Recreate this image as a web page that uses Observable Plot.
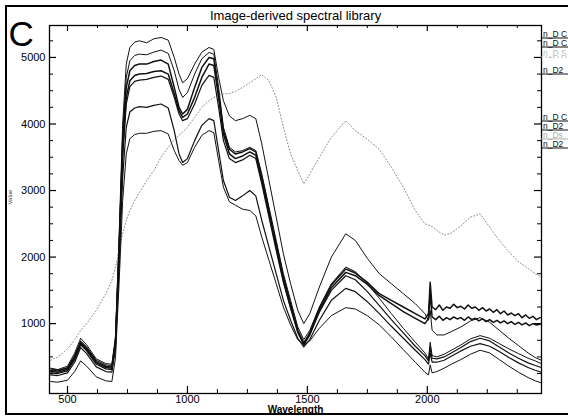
<!DOCTYPE html>
<html>
<head>
<meta charset="utf-8">
<script src="https://cdn.jsdelivr.net/npm/d3@7"></script>
<script src="https://cdn.jsdelivr.net/npm/@observablehq/plot@0.6"></script>
<style>
  html, body { margin: 0; padding: 0; background: #fff; overflow: hidden; }
  #chart svg { display: block; }
</style>
</head>
<body>
<div id="chart"></div>
<script>
// Wavelength grids (nm). The two noisy spectra use a finer grid past 2020 nm.
const bands = [430, 460, 500, 530, 555, 580, 620, 660, 685, 700, 715, 730, 745, 760, 780, 800, 830, 860, 890, 920,
  945, 965, 980, 1000, 1030, 1060, 1090, 1110, 1130, 1150, 1175, 1200, 1230, 1260, 1285, 1310, 1340, 1370, 1400, 1430,
  1460, 1485, 1510, 1550, 1600, 1660, 1700, 1750, 1800, 1850, 1900, 1950, 1990, 2005, 2012, 2020,
  2040, 2070, 2100, 2140, 2180, 2220, 2260, 2300, 2340, 2380, 2420, 2450, 2475];
const bandsFine = [430, 460, 500, 530, 555, 580, 620, 660, 685, 700, 715, 730, 745, 760, 780, 800, 830, 860, 890, 920,
  945, 965, 980, 1000, 1030, 1060, 1090, 1110, 1130, 1150, 1175, 1200, 1230, 1260, 1285, 1310, 1340, 1370, 1400, 1430,
  1460, 1485, 1510, 1550, 1600, 1660, 1700, 1750, 1800, 1850, 1900, 1950, 1990, 2005, 2012, 2020,
  2035, 2050, 2065, 2080, 2095, 2110, 2125, 2140, 2155, 2170, 2185, 2200, 2215, 2230, 2245, 2260, 2275, 2290, 2305,
  2320, 2335, 2350, 2365, 2380, 2395, 2410, 2425, 2440, 2455, 2470];

// Library spectra (value per band)
const specA = [330, 310, 360, 560, 780, 680, 470, 400, 390, 800, 2300, 4000, 4900, 5150, 5230, 5250, 5220, 5280, 5300, 5260,
  5000, 4750, 4620, 4680, 4900, 5080, 5150, 5120, 4700, 4350, 4120, 4050, 4080, 4130, 4080, 3700, 3150, 2600, 2050, 1600,
  1200, 1000, 1150, 1550, 2000, 2350, 2250, 1980, 1750, 1600, 1450, 1300, 1150, 1050, 1200, 900,
  830, 830, 880, 950, 1040, 1090, 1020, 900, 780, 670, 560, 490, 450];
const specB = [320, 300, 340, 530, 740, 650, 450, 380, 370, 760, 2200, 3850, 4700, 4950, 5030, 5050, 5040, 5080, 5110, 5060,
  4800, 4520, 4400, 4470, 4750, 4980, 5075, 5050, 4550, 3950, 3650, 3580, 3600, 3650, 3600, 3250, 2750, 2250, 1750, 1350,
  950, 760, 900, 1250, 1600, 1850, 1780, 1600, 1380, 1150, 930, 720, 560, 470, 720, 520,
  500, 540, 600, 680, 770, 820, 780, 700, 620, 550, 480, 440, 400];
const soil = [450, 500, 620, 760, 900, 1000, 1200, 1450, 1650, 1850, 2100, 2350, 2550, 2700, 2850, 2970, 3150, 3300, 3500, 3650,
  3760, 3830, 3880, 3950, 4100, 4250, 4350, 4400, 4430, 4450, 4460, 4490, 4550, 4620, 4680, 4740, 4650, 4400, 3950, 3550,
  3300, 3100, 3250, 3500, 3800, 4050, 3900, 3770, 3620, 3350, 3050, 2700, 2500, 2480, 2470, 2460,
  2400, 2330, 2360, 2470, 2600, 2650, 2450, 2250, 2080, 1930, 1830, 1750, 1700];
const specC = [300, 290, 330, 500, 720, 630, 430, 360, 350, 720, 2100, 3700, 4550, 4800, 4880, 4900, 4900, 4940, 4960, 4900,
  4550, 4250, 4150, 4220, 4550, 4850, 5000, 4980, 4450, 3900, 3620, 3550, 3580, 3630, 3580, 3200, 2700, 2200, 1700, 1300,
  900, 700, 860, 1230, 1580, 1820, 1760, 1620, 1450, 1350, 1250, 1150, 1070, 1150, 1620, 1250,
  1210, 1280, 1200, 1250, 1230, 1290, 1240, 1260, 1220, 1280, 1230, 1250, 1200, 1240, 1190, 1220, 1170, 1210, 1150,
  1190, 1130, 1160, 1120, 1150, 1090, 1130, 1080, 1110, 1060, 1090];
const specD = [280, 270, 310, 480, 700, 610, 410, 340, 330, 700, 2050, 3600, 4400, 4650, 4730, 4750, 4760, 4790, 4800, 4750,
  4450, 4200, 4100, 4150, 4400, 4700, 4900, 4880, 4400, 3850, 3550, 3480, 3520, 3580, 3530, 3150, 2650, 2150, 1650, 1250,
  870, 680, 830, 1200, 1540, 1770, 1720, 1590, 1420, 1300, 1180, 1080, 1000, 1080, 1450, 1100,
  1060, 1110, 1050, 1090, 1060, 1100, 1070, 1090, 1050, 1100, 1060, 1080, 1040, 1070, 1030, 1060, 1020, 1050, 1010,
  1040, 1000, 1030, 990, 1020, 980, 1010, 970, 1000, 980, 990];
const specE = [260, 250, 290, 460, 680, 590, 390, 320, 310, 680, 2000, 3500, 4300, 4560, 4640, 4660, 4670, 4700, 4720, 4670,
  4400, 4150, 4050, 4080, 4300, 4580, 4730, 4700, 4250, 3750, 3480, 3420, 3460, 3530, 3480, 3100, 2600, 2100, 1620, 1230,
  880, 720, 840, 1170, 1500, 1720, 1660, 1480, 1270, 1060, 860, 660, 520, 440, 650, 480,
  470, 500, 560, 640, 730, 780, 740, 650, 560, 480, 410, 370, 340];
const specF = [230, 220, 260, 420, 640, 550, 350, 280, 270, 620, 1850, 3200, 3950, 4180, 4240, 4260, 4250, 4280, 4300, 4240,
  3900, 3550, 3420, 3480, 3750, 3980, 4080, 4050, 3600, 3150, 2900, 2850, 2920, 3000, 2920, 2550, 2150, 1750, 1350, 1050,
  780, 650, 760, 1050, 1350, 1530, 1480, 1330, 1150, 960, 780, 600, 460, 390, 560, 420,
  420, 450, 510, 590, 660, 700, 660, 580, 490, 410, 340, 300, 270];
const specG = [130, 120, 150, 280, 440, 360, 200, 140, 130, 480, 1600, 2850, 3550, 3780, 3840, 3860, 3860, 3890, 3900, 3850,
  3600, 3450, 3380, 3420, 3650, 3830, 3900, 3870, 3450, 3050, 2830, 2780, 2720, 2700, 2620, 2300, 1950, 1600, 1250, 980,
  760, 680, 740, 930, 1120, 1240, 1220, 1120, 980, 800, 610, 420, 270, 230, 380, 260,
  280, 330, 390, 460, 540, 600, 560, 460, 360, 270, 190, 140, 110];

// Legend names, top to bottom (as far as the narrow legend column shows them)
const names = ["n_D C", "n_D C", "n_D S", "n_D2", "n_D C", "n_D2", "n_Ds", "n_D2"];

// Axis ticks
const xMajor = [500, 1000, 1500, 2000];
const xMinor = [625, 750, 875, 1125, 1250, 1375, 1625, 1750, 1875, 2125, 2250, 2375];
const yMajor = [1000, 2000, 3000, 4000, 5000];
const yMinor = [250, 500, 750, 1250, 1500, 1750, 2250, 2500, 2750, 3250, 3500, 3750, 4250, 4500, 4750, 5250];

// Series: values, grid, drawing style
const series = [
  {name: names[0], wl: bands,     v: specA, stroke: "#111", width: 1.0, dash: null, legendStroke: "#111", legendText: "#111"},
  {name: names[1], wl: bands,     v: specB, stroke: "#111", width: 1.0, dash: null, legendStroke: "#111", legendText: "#111"},
  {name: names[2], wl: bands,     v: soil,  stroke: "#8a8a8a", width: 1.0, dash: "1,2.2", legendStroke: "#bbb", legendText: "#bbb"},
  {name: names[3], wl: bandsFine, v: specC, stroke: "#111", width: 1.5, dash: null, legendStroke: "#111", legendText: "#111"},
  {name: names[4], wl: bandsFine, v: specD, stroke: "#111", width: 1.5, dash: null, legendStroke: "#111", legendText: "#111"},
  {name: names[5], wl: bands,     v: specE, stroke: "#111", width: 1.2, dash: null, legendStroke: "#111", legendText: "#111"},
  {name: names[6], wl: bands,     v: specF, stroke: "#111", width: 1.2, dash: null, legendStroke: "#aaa", legendText: "#aaa"},
  {name: names[7], wl: bands,     v: specG, stroke: "#111", width: 1.0, dash: null, legendStroke: "#111", legendText: "#111"}
];

const W = 568, H = 417;
const mTop = 25, mRight = 27, mBottom = 24, mLeft = 49;
const frameW = W - mLeft - mRight, frameH = H - mTop - mBottom;
const majorLen = 7, minorLen = 4;

const lineMarks = series.map(s => Plot.line(
  s.wl.map((wl, i) => ({wl, v: s.v[i]})),
  {x: "wl", y: "v", stroke: s.stroke, strokeWidth: s.width, strokeDasharray: s.dash, curve: "linear"}
));

const chart = Plot.plot({
  width: W,
  height: H,
  marginTop: mTop, marginRight: mRight, marginBottom: mBottom, marginLeft: mLeft,
  style: {fontFamily: "'Liberation Sans', Arial, sans-serif", fontSize: "11px", background: "#fff", overflow: "hidden"},
  x: {domain: [425, 2476], axis: null},
  y: {domain: [-50, 5480], axis: null},
  marks: [
    ...lineMarks,
    Plot.frame({stroke: "#000", strokeWidth: 1.3}),
    // inward ticks on all four sides
    Plot.tickX(xMajor, {x: d => d, insetTop: frameH - majorLen, stroke: "#000", strokeWidth: 1.2}),
    Plot.tickX(xMinor, {x: d => d, insetTop: frameH - minorLen, stroke: "#000"}),
    Plot.tickX(xMajor, {x: d => d, insetBottom: frameH - 6, stroke: "#000", strokeWidth: 1.2}),
    Plot.tickX(xMinor, {x: d => d, insetBottom: frameH - 3, stroke: "#000"}),
    Plot.tickY(yMajor, {y: d => d, insetRight: frameW - majorLen, stroke: "#000", strokeWidth: 1.2}),
    Plot.tickY(yMinor, {y: d => d, insetRight: frameW - minorLen, stroke: "#000"}),
    Plot.tickY(yMajor, {y: d => d, insetLeft: frameW - majorLen, stroke: "#000", strokeWidth: 1.2}),
    Plot.tickY(yMinor, {y: d => d, insetLeft: frameW - minorLen, stroke: "#000"}),
    // tick labels
    Plot.text(xMajor, {x: d => d, text: d => String(d), frameAnchor: "bottom", lineAnchor: "top", dy: 2, fontSize: 11, fill: "#000"}),
    Plot.text(yMajor, {y: d => d, text: d => String(d), frameAnchor: "left", textAnchor: "end", dx: -4, fontSize: 11, fill: "#000"}),
    // axis titles
    Plot.text(["Wavelength"], {text: d => d, frameAnchor: "bottom", lineAnchor: "bottom", dy: 19.5, fontSize: 10, fontWeight: "bold", fill: "#000"}),
    Plot.text(["Value"], {text: d => d, frameAnchor: "left", dx: -39, dy: -5, rotate: -90, fontSize: 6, fill: "#444"}),
    // title and panel letter
    Plot.text(["Image-derived spectral library"], {text: d => d, frameAnchor: "top", lineAnchor: "bottom", dy: -6, fontSize: 13, fill: "#000"}),
    Plot.text(["C"], {text: d => d, frameAnchor: "top-left", textAnchor: "start", lineAnchor: "bottom", dx: -41, dy: 20, fontSize: 35, fill: "#000"})
  ]
});

// Panel border and legend along the right edge
const svg = d3.select(chart);
svg.append("rect")
  .attr("x", 6).attr("y", 6).attr("width", 640).attr("height", 408)
  .attr("fill", "none").attr("stroke", "#000").attr("stroke-width", 2);

const legendY = [38, 47, 57, 74, 121, 130, 139, 148];
const lg = svg.append("g")
  .attr("font-family", "'Liberation Sans', Arial, sans-serif")
  .attr("font-size", 8.5)
  .attr("text-anchor", "start");
series.forEach((s, i) => {
  const y = legendY[i];
  lg.append("line")
    .attr("x1", W - mRight).attr("x2", W).attr("y1", y).attr("y2", y)
    .attr("stroke", s.legendStroke).attr("stroke-width", 1)
    .attr("stroke-dasharray", s.dash ? "2,2" : null);
  lg.append("text")
    .attr("x", W - mRight + 2).attr("y", y - 1.5)
    .attr("fill", s.legendText)
    .text(s.name);
});

document.getElementById("chart").appendChild(chart);
</script>
</body>
</html>
